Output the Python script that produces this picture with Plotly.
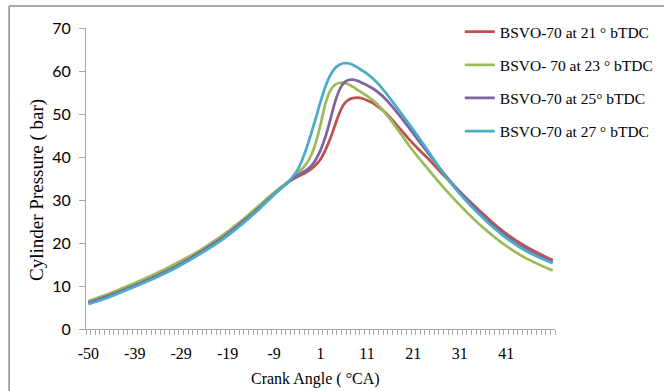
import plotly.graph_objects as go

# Category labels along the crank-angle axis (one category per column)
crank_angle = [-50] + list(range(-48, 52))
label_step = 10

# Crank angles (deg) at which the pressure curves are given
sample_angle = [-50, -45, -40, -35, -30, -25, -20, -15, -12, -10, -8, -6, -5, -4,
                -3, -2, -1, 0, 1, 2, 3, 4, 5, 6, 7, 8, 9, 10, 11, 12, 13, 14, 15,
                16, 18, 20, 22, 24, 28, 32, 36, 40, 45, 51]

# Cylinder pressure (bar) for each injection timing
p_21 = [6.2, 7.7, 9.8, 12.2, 14.8, 17.9, 21.4, 25.7, 28.5, 30.5, 32.4, 34.1, 34.8, 35.4,
        35.9, 36.5, 37.2, 38.2, 39.5, 41.5, 44.0, 47.0, 50.0, 52.2, 53.3, 53.7, 53.8, 53.6,
        53.2, 52.7, 52.0, 51.2, 50.3, 49.2, 46.7, 44.2, 41.9, 39.8, 35.2, 30.9, 26.8, 23.0,
        19.3, 16.0]
p_23 = [6.5, 8.0, 10.2, 12.6, 15.3, 18.3, 21.9, 26.1, 28.9, 30.8, 32.6, 34.2, 35.1, 36.1,
        37.2, 38.5, 40.4, 43.4, 47.5, 52.2, 55.2, 56.7, 57.2, 57.3, 56.9, 56.3, 55.6, 54.9,
        54.2, 53.4, 52.5, 51.4, 50.1, 48.8, 45.8, 42.8, 40.0, 37.4, 32.3, 27.7, 23.6, 20.1,
        16.6, 13.6]
p_25 = [6.1, 7.6, 9.7, 12.0, 14.6, 17.8, 21.3, 25.6, 28.4, 30.4, 32.3, 34.1, 35.0, 35.7,
        36.3, 37.0, 37.9, 39.4, 41.6, 44.5, 48.2, 52.3, 55.4, 57.2, 57.9, 58.0, 57.7, 57.2,
        56.7, 56.1, 55.4, 54.5, 53.5, 52.3, 49.7, 46.9, 44.0, 41.2, 35.6, 30.6, 26.3, 22.5,
        18.7, 15.6]
p_27 = [5.8, 7.2, 9.4, 11.7, 14.3, 17.4, 20.9, 25.2, 28.1, 30.2, 32.2, 34.1, 35.4, 36.9,
        39.2, 42.1, 45.5, 49.1, 52.8, 56.2, 58.8, 60.5, 61.4, 61.8, 61.8, 61.4, 60.8, 60.1,
        59.4, 58.5, 57.5, 56.3, 55.0, 53.6, 50.7, 47.8, 44.8, 41.7, 35.4, 30.2, 25.8, 22.0,
        18.3, 15.3]

series_names = ["BSVO-70 at 21 ° bTDC", "BSVO- 70 at 23 ° bTDC",
                "BSVO-70 at 25° bTDC", "BSVO-70 at 27 ° bTDC"]
series_values = [p_21, p_23, p_25, p_27]
series_colors = ["#C0504D", "#9BBB59", "#8064A2", "#4BACC6"]

SERIF = "Liberation Serif"
SANS = "Lato"
AXIS_GREY = "#A6A6A6"

# position of each category on the axis
pos = {a: i for i, a in enumerate(crank_angle)}
x_pos = [pos[a] for a in sample_angle]

fig = go.Figure()
for name, vals, col in zip(series_names, series_values, series_colors):
    fig.add_trace(go.Scatter(
        x=x_pos, y=vals, name=name, mode="lines", legendgroup=name,
        line=dict(color=col, width=2.75, shape="spline", smoothing=1.0),
    ))

label_idx = list(range(0, len(crank_angle), label_step))[:-1]

fig.update_layout(
    width=664, height=391,
    margin=dict(l=86, r=109, t=28, b=62, autoexpand=False),
    paper_bgcolor="white", plot_bgcolor="white",
    font=dict(family=SERIF, size=16, color="black"),
    showlegend=True,
    legend=dict(
        x=0.797, y=1.043, xanchor="left", yanchor="top",
        bgcolor="rgba(0,0,0,0)", font=dict(family=SERIF, size=15.5, color="black"),
        tracegroupgap=10, traceorder="grouped",
    ),
    xaxis=dict(
        range=[-0.5, len(crank_angle) - 0.5],
        tickmode="array",
        tickvals=label_idx,
        ticktext=[str(crank_angle[i]) for i in label_idx],
        ticks="", ticklabelstandoff=10,
        showline=True, linecolor=AXIS_GREY, linewidth=1,
        showgrid=False, zeroline=False, automargin=False,
        tickfont=dict(family=SERIF, size=16, color="black"),
        minor=dict(
            tickmode="array",
            tickvals=[i - 0.5 for i in range(len(crank_angle) + 1)],
            ticks="outside", ticklen=5, tickcolor=AXIS_GREY, showgrid=False,
        ),
    ),
    yaxis=dict(
        range=[0, 70], tickmode="linear", tick0=0, dtick=10,
        ticks="outside", ticklen=6, tickcolor=AXIS_GREY, ticklabelstandoff=5,
        showline=True, linecolor=AXIS_GREY, linewidth=1,
        showgrid=False, zeroline=False, automargin=False,
        tickfont=dict(family=SANS, size=16, color="black"),
    ),
)

# axis titles
fig.add_annotation(
    text="Crank Angle ( °CA)", showarrow=False,
    xref="paper", yref="paper", x=0.49, y=-0.166,
    xanchor="center", yanchor="middle",
    font=dict(family=SERIF, size=16, color="black"),
)
fig.add_annotation(
    text="Cylinder Pressure ( bar)", textangle=-90, showarrow=False,
    xref="paper", yref="paper", x=-0.1045, y=0.462,
    xanchor="center", yanchor="middle",
    font=dict(family=SERIF, size=19, color="black"),
)

# chart frame (top and left edges)
frame = dict(color="#8C8C8C", width=1.5)
fig.add_shape(type="line", xref="paper", yref="paper",
              x0=-0.164, y0=1.073, x1=1.30, y1=1.073, line=frame)
fig.add_shape(type="line", xref="paper", yref="paper",
              x0=-0.164, y0=1.073, x1=-0.164, y1=-0.30, line=frame)

fig.write_html("out.html")
